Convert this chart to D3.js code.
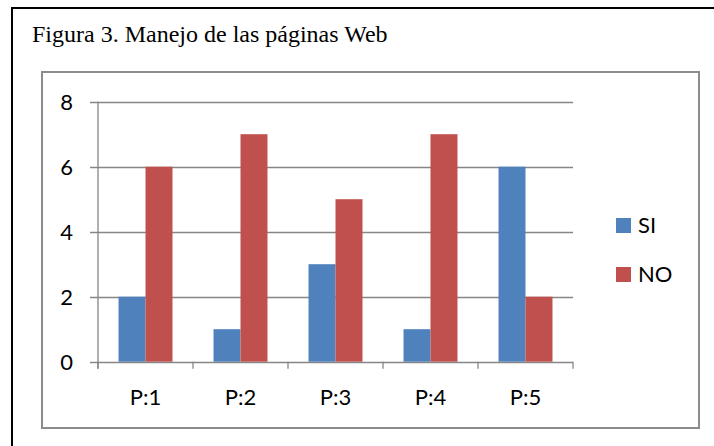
<!DOCTYPE html>
<html>
<head>
<meta charset="utf-8">
<script src="https://cdn.jsdelivr.net/npm/d3@7.9.0/dist/d3.min.js"></script>
<style>
  body { margin: 0; background: #fff; }
  svg { display: block; }
  .lbl { font-family: Lato, "Open Sans", sans-serif; font-size: 22px; fill: #000; }
</style>
</head>
<body>
<svg id="chart" width="714" height="446"></svg>
<script>
const categories = ['P:1', 'P:2', 'P:3', 'P:4', 'P:5'];
const series = ['SI', 'NO'];
const siValues = [2, 1, 3, 1, 6];
const noValues = [6, 7, 5, 7, 2];
const yTicks = [0, 2, 4, 6, 8];

const colors = { SI: '#4F81BD', NO: '#C0504D' };
const gridColor = '#868686';

const svg = d3.select('#chart');

// outer figure border (black, open to the right and bottom)
svg.append('path')
  .attr('d', 'M12,446 L12,8 L714,8')
  .attr('fill', 'none')
  .attr('stroke', '#000')
  .attr('stroke-width', 2);

svg.append('text')
  .attr('x', 32)
  .attr('y', 42)
  .attr('font-family', '"Liberation Serif", "Times New Roman", serif')
  .attr('font-size', 24)
  .text('Figura 3. Manejo de las páginas Web');

// chart frame
svg.append('rect')
  .attr('x', 42).attr('y', 72)
  .attr('width', 657).attr('height', 356)
  .attr('fill', 'none')
  .attr('stroke', '#8c8c8c')
  .attr('stroke-width', 2);

const plotLeft = 98, plotRight = 573, plotTop = 101.7, plotBottom = 361.7;

const y = d3.scaleLinear().domain([0, 8]).range([plotBottom, plotTop]);
const x0 = d3.scaleBand().domain(categories).range([plotLeft, plotRight]).padding(0);
const bw = x0.bandwidth();
const x1 = d3.scaleBand().domain(series).range([bw * 0.216, bw * 0.784]).padding(0);

const rows = categories.map((c, i) => ({ cat: c, SI: siValues[i], NO: noValues[i] }));

// gridlines
svg.append('g')
  .selectAll('line')
  .data(yTicks)
  .join('line')
  .attr('x1', plotLeft - 8).attr('x2', plotRight)
  .attr('y1', d => Math.round(y(d)) + 0.5)
  .attr('y2', d => Math.round(y(d)) + 0.5)
  .attr('stroke', gridColor)
  .attr('stroke-width', 1.3);

// bars
svg.append('g')
  .selectAll('g')
  .data(rows)
  .join('g')
  .attr('transform', d => `translate(${x0(d.cat)},0)`)
  .selectAll('rect')
  .data(d => series.map(s => ({ key: s, value: d[s] })))
  .join('rect')
  .attr('x', d => x1(d.key))
  .attr('width', x1.bandwidth())
  .attr('y', d => y(d.value))
  .attr('height', d => y(0) - y(d.value))
  .attr('fill', d => colors[d.key]);

// y axis line
svg.append('line')
  .attr('x1', plotLeft).attr('x2', plotLeft)
  .attr('y1', plotTop).attr('y2', plotBottom + 7)
  .attr('stroke', gridColor).attr('stroke-width', 1.3);

// x axis ticks at band edges
const edges = categories.map(c => x0(c)).concat([plotRight]);
svg.append('g')
  .selectAll('line')
  .data(edges)
  .join('line')
  .attr('x1', d => d).attr('x2', d => d)
  .attr('y1', plotBottom).attr('y2', plotBottom + 7)
  .attr('stroke', gridColor).attr('stroke-width', 1.3);

// y labels
svg.append('g')
  .selectAll('text')
  .data(yTicks)
  .join('text')
  .attr('class', 'lbl')
  .attr('x', 73)
  .attr('y', d => y(d) + 8)
  .attr('text-anchor', 'end')
  .text(d => d);

// x labels
svg.append('g')
  .selectAll('text')
  .data(categories)
  .join('text')
  .attr('class', 'lbl')
  .attr('x', d => x0(d) + bw / 2)
  .attr('y', 405)
  .attr('text-anchor', 'middle')
  .text(d => d);

// legend
const legend = svg.append('g')
  .selectAll('g')
  .data(series)
  .join('g')
  .attr('transform', (d, i) => `translate(616,${218 + i * 49})`);
legend.append('rect')
  .attr('width', 15).attr('height', 15)
  .attr('fill', d => colors[d]);
legend.append('text')
  .attr('class', 'lbl')
  .attr('font-size', 21)
  .attr('x', 22)
  .attr('y', 15)
  .text(d => d);
</script>
</body>
</html>
